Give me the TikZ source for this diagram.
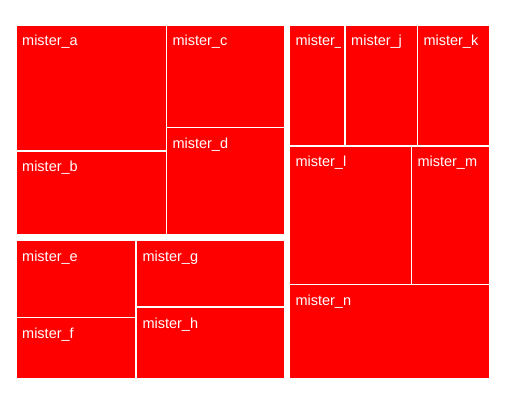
\documentclass[tikz,border=0pt]{standalone}
\usepackage{fontspec}
\setmainfont{Liberation Sans}
\begin{document}
\begin{tikzpicture}[x=1pt,y=-1pt,
  cell/.style={fill=red,draw=white,line width=1.4pt},
  lab/.style={anchor=base west,inner sep=0pt,text=white,font=\fontsize{14.5}{17}\selectfont}]
\useasboundingbox (0,0) rectangle (509,401);
\fill[white] (0,0) rectangle (509,401);
% group 1
\path[cell] (16.5,25.5) rectangle (166.5,151);
\path[cell] (16.5,151) rectangle (166.5,235);
\path[cell] (166.5,25.5) rectangle (284.8,127.5);
\path[cell] (166.5,127.5) rectangle (284.8,235);
% group 2
\path[cell] (16.5,240) rectangle (136,317.5);
\path[cell] (16.5,317.5) rectangle (136,378.5);
\path[cell] (136,240) rectangle (284.8,307);
\path[cell] (136,307) rectangle (284.8,378.5);
% group 3
\path[cell] (289.3,25.5) rectangle (345,146);
\path[cell] (345,25.5) rectangle (417.5,146);
\path[cell] (417.5,25.5) rectangle (489.5,146);
\path[cell] (289.3,146) rectangle (411.5,284.5);
\path[cell] (411.5,146) rectangle (489.5,284.5);
\path[cell] (289.3,284.5) rectangle (489.5,378.5);
% labels
\node[lab] (a) at (22,45.7) {mister\_a};
\node[lab] (b) at (22,171.5) {mister\_b};
\node[lab] (c) at (172.3,45.7) {mister\_c};
\node[lab] (d) at (172.3,149) {mister\_d};
\node[lab] (e) at (22,261) {mister\_e};
\node[lab] (f) at (22,338.5) {mister\_f};
\node[lab] (g) at (142.3,261) {mister\_g};
\node[lab] (h) at (142.3,328) {mister\_h};
\begin{scope}
\clip (289,26) rectangle (340.5,146);
\node[lab] (i) at (295.3,45.7) {mister\_i};
\end{scope}
\node[lab] (j) at (351,45.7) {mister\_j};
\node[lab] (k) at (423.3,45.7) {mister\_k};
\node[lab] (l) at (295.3,167) {mister\_l};
\node[lab] (m) at (417.3,167) {mister\_m};
\node[lab] (n) at (295.3,305.5) {mister\_n};
\end{tikzpicture}
\end{document}
